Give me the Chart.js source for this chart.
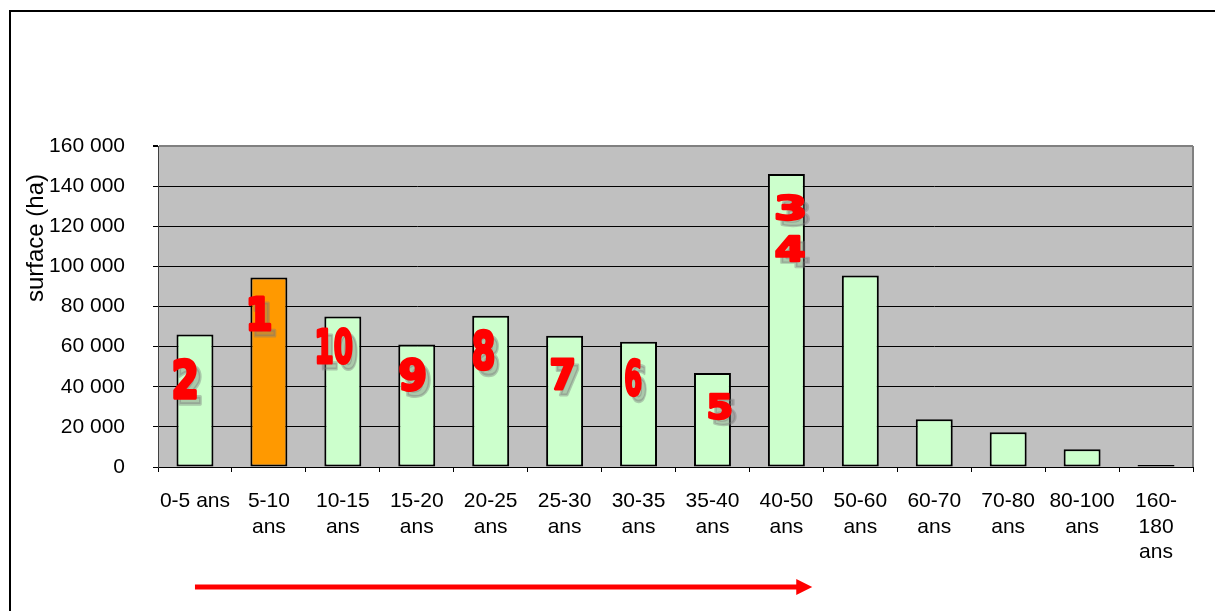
<!DOCTYPE html>
<html>
<head>
<meta charset="utf-8">
<script src="https://cdn.jsdelivr.net/npm/chart.js@4/dist/chart.umd.min.js"></script>
<style>
html, body { margin: 0; padding: 0; background: #fff; overflow: hidden; }
#frame { position: absolute; left: 9px; top: 10px; width: 1300px; height: 700px; border: 2px solid #000; box-sizing: border-box; }
#wrap { position: absolute; left: 0; top: 0; width: 1215px; height: 611px; }
</style>
</head>
<body>
<div id="frame"></div>
<div id="wrap"><canvas id="chart"></canvas></div>
<script>
// ===== données =====
const ageClasses = [
    ['0-5 ans'], ['5-10', 'ans'], ['10-15', 'ans'], ['15-20', 'ans'], ['20-25', 'ans'],
    ['25-30', 'ans'], ['30-35', 'ans'], ['35-40', 'ans'], ['40-50', 'ans'], ['50-60', 'ans'],
    ['60-70', 'ans'], ['70-80', 'ans'], ['80-100', 'ans'], ['160-', '180', 'ans']
];
const surfaces = [66000, 94500, 75000, 61000, 75400, 65400, 62400, 46800, 146000, 95400, 23800, 17300, 8800, 300];
const highlighted = 1;   // 5-10 ans

const yTicksMax = 160000;
const yTicksStep = 20000;

// rangs en rouge : catégorie + hauteur (ha) où le chiffre est posé
const rankTexts  = ['2', '1', '10', '9', '8', '7', '6', '5', '3', '4'];
const rankCats   = [0, 1, 2, 3, 4, 5, 6, 7, 8, 8];
const rankValues = [44000, 76000, 60500, 46400, 58400, 46400, 45000, 30000, 129500, 108800];

// style des chiffres (décalage en fraction de catégorie, taille en px)
const rankStyle = [
    { dx: -0.135, w: 24, h: 42 },
    { dx: -0.12,  w: 23, h: 35 },
    { dx: -0.11,  w: 36, h: 38 },
    { dx: -0.055, w: 27, h: 35 },
    { dx: -0.095, w: 22, h: 43 },
    { dx: -0.03,  w: 24, h: 32 },
    { dx: -0.07,  w: 17, h: 40 },
    { dx: 0.10,   w: 24, h: 27 },
    { dx: 0.05,   w: 30, h: 28 },
    { dx: 0.05,   w: 30, h: 28 },
];

// flèche : de la catégorie 0 à 8.35
const arrowFrom = 0;
const arrowTo = 8.35;

const fmt = v => String(v).replace(/\B(?=(\d{3})+(?!\d))/g, ' ');

function drawRank(ctx, text, cx, cy, w, h, color) {
    const sw = 7;  // épaisseur ajoutée (unités police)
    ctx.save();
    ctx.font = 'bold 100px "DejaVu Sans"';
    ctx.textAlign = 'left';
    ctx.textBaseline = 'alphabetic';
    const m = ctx.measureText(text);
    const inkW = m.actualBoundingBoxLeft + m.actualBoundingBoxRight + sw;
    const inkH = m.actualBoundingBoxAscent + m.actualBoundingBoxDescent + sw;
    ctx.translate(cx, cy);
    ctx.scale(w / inkW, h / inkH);
    ctx.fillStyle = color;
    ctx.strokeStyle = color;
    ctx.lineWidth = sw;
    ctx.lineJoin = 'round';
    const tx = -inkW / 2 + sw / 2 + m.actualBoundingBoxLeft;
    const ty = inkH / 2 - sw / 2 - m.actualBoundingBoxDescent;
    ctx.fillText(text, tx, ty);
    ctx.strokeText(text, tx, ty);
    ctx.restore();
}

const decor = {
    id: 'decor',
    beforeDraw(chart) {
        const { ctx, chartArea: a } = chart;
        ctx.save();
        ctx.fillStyle = '#C0C0C0';
        ctx.fillRect(a.left, a.top, a.right - a.left, a.bottom - a.top);
        ctx.restore();
    },
    afterDraw(chart) {
        const { ctx, chartArea: a, scales: { x, y } } = chart;
        const cw = x.getPixelForValue(1) - x.getPixelForValue(0);
        const catX = u => x.getPixelForValue(0) + u * cw;

        ctx.save();
        // bord droit de la zone de traçage
        ctx.strokeStyle = '#808080';
        ctx.lineWidth = 2;
        ctx.beginPath();
        ctx.moveTo(a.right, a.top);
        ctx.lineTo(a.right, a.bottom);
        ctx.stroke();

        // titre de l'axe Y
        ctx.translate(36, a.top + 92);
        ctx.rotate(-Math.PI / 2);
        ctx.font = '24px "Liberation Sans", Arial, sans-serif';
        ctx.fillStyle = '#000';
        ctx.textAlign = 'center';
        ctx.textBaseline = 'middle';
        ctx.fillText('surface (ha)', 0, 0);
        ctx.restore();

        // rangs
        rankTexts.forEach((t, i) => {
            const s = rankStyle[i];
            const cx = catX(rankCats[i] + s.dx);
            const cy = y.getPixelForValue(rankValues[i]);
            drawRank(ctx, t, cx + 5, cy + 6, s.w, s.h, 'rgba(120,120,120,0.4)');
            drawRank(ctx, t, cx, cy, s.w, s.h, '#FF0000');
        });

        // flèche rouge
        const ay = 587;
        const x0 = catX(arrowFrom), x1 = catX(arrowTo);
        ctx.save();
        ctx.fillStyle = '#FF0000';
        ctx.fillRect(x0, ay - 2.5, x1 - x0 - 14, 5);
        ctx.beginPath();
        ctx.moveTo(x1, ay);
        ctx.lineTo(x1 - 16, ay - 8);
        ctx.lineTo(x1 - 16, ay + 8);
        ctx.closePath();
        ctx.fill();
        ctx.restore();
    }
};

new Chart(document.getElementById('chart'), {
    type: 'bar',
    data: {
        labels: ageClasses,
        datasets: [{
            data: surfaces,
            backgroundColor: surfaces.map((_, i) => i === highlighted ? '#FF9900' : '#CCFFCC'),
            borderColor: '#000',
            borderWidth: 2,
            borderSkipped: false,
            minBarLength: 2,
            barPercentage: 0.5,
            categoryPercentage: 1,
        }]
    },
    options: {
        responsive: true,
        maintainAspectRatio: false,
        animation: false,
        layout: { padding: { left: 20, right: 22, top: 146, bottom: 0 } },
        plugins: { legend: { display: false }, tooltip: { enabled: false } },
        scales: {
            x: {
                afterFit: s => { s.height = 144; },
                grid: {
                    offset: true,
                    drawOnChartArea: false,
                    color: '#000',
                    tickLength: 5,
                },
                border: { color: '#000', width: 1 },
                ticks: {
                    color: '#000',
                    padding: 17,
                    maxRotation: 0,
                    autoSkip: false,
                    font: { family: '"Liberation Sans", Arial, sans-serif', size: 21, lineHeight: 1.2 },
                },
            },
            y: {
                min: 0,
                max: yTicksMax,
                afterFit: s => { s.width = 138; },
                grid: {
                    color: ctx => ctx.tick && ctx.tick.value === yTicksMax ? '#808080' : '#000',
                    lineWidth: ctx => ctx.tick && ctx.tick.value === yTicksMax ? 2 : 1,
                    tickColor: '#000',
                    tickLength: 5,
                },
                border: { color: '#404040', width: 1 },
                ticks: {
                    stepSize: yTicksStep,
                    color: '#000',
                    padding: 28,
                    callback: v => fmt(v),
                    font: { family: '"Liberation Sans", Arial, sans-serif', size: 21 },
                },
            }
        }
    },
    plugins: [decor]
});
</script>
</body>
</html>
